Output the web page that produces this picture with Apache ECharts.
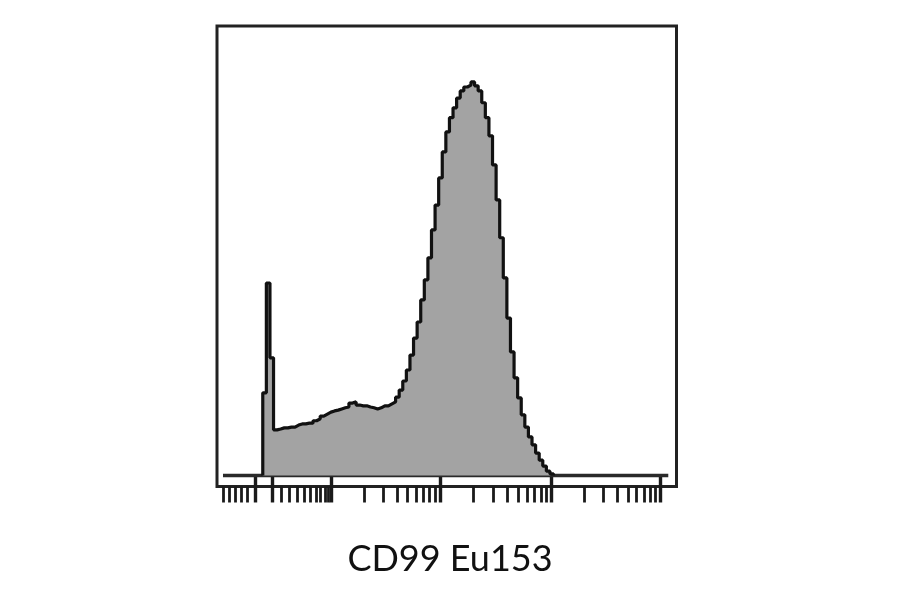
<!DOCTYPE html>
<html>
<head>
<meta charset="utf-8">
<script src="https://cdn.jsdelivr.net/npm/echarts@6/dist/echarts.min.js"></script>
<style>
html,body{margin:0;padding:0;background:#fff;}
#chart{width:900px;height:594px;}
</style>
</head>
<body>
<div id="chart"></div>
<script>
// Histogram of CD99 Eu153 (display channels, one unit = one bin)
const axisTitle = 'CD99 Eu153';
const firstBin = 13;
const counts = [
  21.0, 48.9, 29.9, 11.6, 11.8, 12.1, 12.1, 12.3, 12.3, 12.8,
  13.1, 13.1, 13.3, 13.3, 13.9, 14.4, 15.1, 15.6, 16.1, 16.4,
  16.6, 16.9, 17.2, 17.4, 18.4, 18.7, 17.9, 17.7, 17.7, 17.4,
  17.2, 16.9, 17.2, 17.7, 17.7, 18.2, 18.7, 19.9, 21.7, 24.0,
  26.8, 30.6, 34.9, 39.0, 44.6, 49.7, 55.3, 62.4, 68.7, 75.6,
  82.2, 87.3, 90.9, 93.4, 95.9, 97.7, 98.7, 99.2, 100.0, 99.0,
  97.7, 94.7, 90.9, 86.3, 78.9, 70.0, 60.4, 50.2, 40.0, 31.4,
  24.8, 19.7, 15.4, 12.3, 9.8, 7.8, 5.7, 3.9, 2.4, 1.1,
  0.4
];
const baselineRange = [1.92, 125.96];
const majorTicks = [10.97, 15.57, 32.2, 62.37, 93.48, 123.79];
const minorTicks = [
  1.92, 3.59, 5.26, 6.94, 8.61,
  18.08, 20.31, 22.53, 24.48, 26.16, 27.83, 28.94, 30.33, 31.17,
  41.34, 46.63, 50.39, 53.31, 55.68, 57.72, 59.44, 61.0,
  71.73, 77.21, 81.11, 84.12, 86.57, 88.66, 90.47, 92.06,
  102.62, 107.97, 111.75, 114.71, 117.1, 119.14, 120.89, 122.45
];
const xRange = [0.25, 128.25];
const yRange = [-2.8, 114.2];

// build step data from bins
const histData = [[firstBin, 0]];
counts.forEach((c, i) => histData.push([firstBin + i, c]));
histData.push([firstBin + counts.length, 0]);

const chart = echarts.init(document.getElementById('chart'), null, {renderer: 'canvas'});
const hiddenAxisBits = {
  axisLine: {show: false},
  axisLabel: {show: false},
  splitLine: {show: false}
};
chart.setOption({
  animation: false,
  backgroundColor: '#ffffff',
  title: {
    text: axisTitle,
    left: 'center',
    top: 536,
    textStyle: {fontFamily: 'Lato', fontWeight: 'normal', fontSize: 36, color: '#111'}
  },
  grid: {
    left: 217, right: 223.5, top: 26, bottom: 107.5,
    show: true, borderColor: '#222', borderWidth: 3, backgroundColor: 'transparent'
  },
  xAxis: [
    Object.assign({
      type: 'value', position: 'bottom', min: xRange[0], max: xRange[1],
      axisTick: {show: true, inside: false, length: 27, customValues: majorTicks,
        lineStyle: {color: '#1a1a1a', width: 3.4}}
    }, hiddenAxisBits),
    Object.assign({
      type: 'value', position: 'bottom', min: xRange[0], max: xRange[1],
      axisTick: {show: true, inside: false, length: 16, customValues: minorTicks,
        lineStyle: {color: '#1a1a1a', width: 2.8}}
    }, hiddenAxisBits)
  ],
  yAxis: {
    type: 'value', min: yRange[0], max: yRange[1], show: false,
    splitLine: {show: false}
  },
  series: [
    {
      type: 'line',
      xAxisIndex: 0,
      data: [[baselineRange[0], 0], [baselineRange[1], 0]],
      symbol: 'none',
      lineStyle: {color: '#2a2a2a', width: 3.4},
      z: 1,
      silent: true
    },
    {
      type: 'line',
      xAxisIndex: 0,
      data: histData,
      step: 'end',
      symbol: 'none',
      lineStyle: {color: '#111', width: 3.2},
      areaStyle: {color: '#a3a3a3', opacity: 1},
      z: 2,
      silent: true
    }
  ]
});
</script>
</body>
</html>
